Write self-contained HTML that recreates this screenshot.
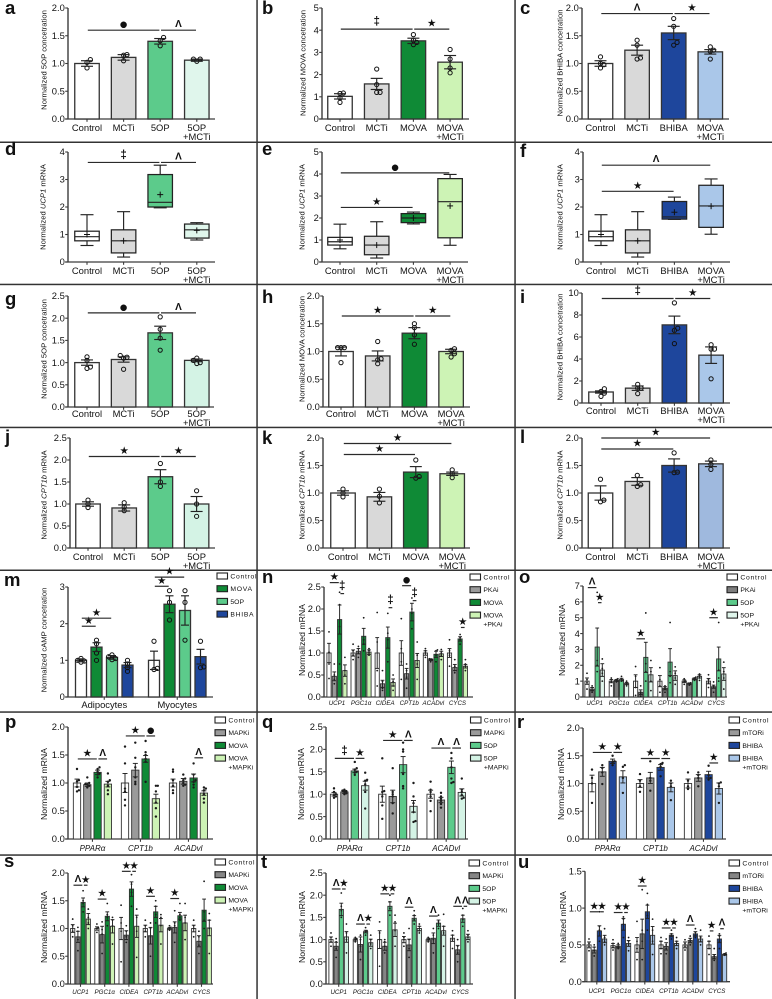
<!DOCTYPE html>
<html lang="en">
<head>
<meta charset="utf-8">
<title>Normalized metabolite and mRNA panels</title>
<style>
html,body{margin:0;padding:0;background:#fff;}
svg{display:block;font-family:"Liberation Sans",Arial,sans-serif;}
</style>
</head>
<body>
<svg id="figure" xmlns="http://www.w3.org/2000/svg" width="772" height="999" viewBox="0 0 772 999">
  <rect x="0" y="0" width="772" height="999" fill="#fff"/>
  <g fill="#333">
    <rect x="256.3" y="0" width="1.5" height="999"/>
    <rect x="514.3" y="0" width="1.5" height="999"/>
    <rect x="0" y="141.5" width="772" height="1.5"/>
    <rect x="0" y="283.7" width="772" height="1.5"/>
    <rect x="0" y="426.7" width="772" height="1.5"/>
    <rect x="0" y="569.5" width="772" height="1.5"/>
    <rect x="0" y="711.3" width="772" height="1.5"/>
    <rect x="0" y="854.3" width="772" height="1.5"/>
  </g>
</svg>
<script>
// ---------- shared tick labels ----------
const ticksTo2 = ['0.0','0.5','1.0','1.5','2.0'];
const ticksTo25 = ['0.0','0.5','1.0','1.5','2.0','2.5'];
const ticksTo5 = ['0','1','2','3','4','5'];
const ticksTo4 = ['0','1','2','3','4'];
const ticksTo10 = ['0','2','4','6','8','10'];
const ticksTo3 = ['0','1','2','3'];
const ticksTo7 = ['0','1','2','3','4','5','6','7'];
const ticksTo15 = ['0.0','0.5','1.0','1.5'];
// ---------- shared categories ----------
const categories5op = ['Control','MCTi','5OP','5OP\n+MCTi'];
const categoriesMova = ['Control','MCTi','MOVA','MOVA\n+MCTi'];
const categoriesBhiba = ['Control','MCTi','BHIBA','MOVA\n+MCTi'];
const categoriesCells = ['Adipocytes','Myocytes'];
const categoriesSixGenes = ['UCP1','PGC1α','CIDEA','CPT1b','ACADvl','CYCS'];
const categoriesThreeGenes = ['PPARα','CPT1b','ACADvl'];

// ---------- panel a ----------
const aValues = [1.0,1.11,1.4,1.06];
const aErrors = [0.05,0.05,0.05,0.02];
const aPoints = [[0.92,1.02,1.07],[1.05,1.15,1.16],[1.32,1.41,1.47],[1.04,1.08,1.08]];
const aSig = [[0,2,1.6,'●'],[2,3,1.6,'Λ']];
// ---------- panel b ----------
const bValues = [1.02,1.58,3.52,2.56];
const bErrors = [0.12,0.25,0.12,0.3];
const bPoints = [[0.75,0.95,1.15,1.17],[1.2,1.2,1.55,2.25],[3.35,3.45,3.55,3.8],[2.08,2.3,2.7,3.13]];
const bSig = [[0,2,4.05,'‡'],[2,3,4.05,'★']];
// ---------- panel c ----------
const cValues = [1.0,1.24,1.55,1.21];
const cErrors = [0.05,0.09,0.12,0.04];
const cPoints = [[0.92,0.98,1.0,1.12],[1.08,1.1,1.33,1.42],[1.33,1.38,1.67,1.81],[1.08,1.22,1.24,1.3]];
const cSig = [[0,2,1.9,'Λ'],[2,3,1.9,'★']];
// ---------- panel d ----------
const dMin = [0.6,0.18,1.97,0.8];
const dQ1 = [0.77,0.33,2.0,0.87];
const dMedian = [0.92,0.77,2.17,1.17];
const dQ3 = [1.12,1.17,3.18,1.38];
const dMax = [1.72,1.83,3.52,1.43];
const dMean = [1.0,0.77,2.45,1.15];
const dSig = [[0,2,3.62,'‡'],[2,3,3.62,'Λ']];
// ---------- panel e ----------
const eMin = [0.6,0.18,1.73,0.76];
const eQ1 = [0.77,0.33,1.79,1.1];
const eMedian = [0.92,0.77,2.0,2.74];
const eQ3 = [1.12,1.17,2.2,3.79];
const eMax = [1.72,1.83,2.27,3.98];
const eMean = [1.0,0.77,2.0,2.55];
const eSig = [[0,3,4.05,'●'],[0,2,2.48,'★']];
// ---------- panel f ----------
const fMin = [0.6,0.18,1.55,1.01];
const fQ1 = [0.77,0.33,1.56,1.26];
const fMedian = [0.92,0.77,1.64,2.04];
const fQ3 = [1.12,1.17,2.2,2.79];
const fMax = [1.72,1.83,2.36,3.02];
const fMean = [1.0,0.77,1.81,2.03];
const fSig = [[0,3,3.52,'Λ'],[0,2,2.57,'★']];
// ---------- panel g ----------
const gValues = [1.0,1.07,1.67,1.05];
const gErrors = [0.06,0.06,0.15,0.03];
const gPoints = [[0.87,0.9,1.05,1.13],[0.85,1.1,1.12,1.16],[1.28,1.55,1.75,2.03],[0.98,1.0,1.05,1.1]];
const gSig = [[0,2,2.12,'●'],[2,3,2.12,'Λ']];
// ---------- panel h ----------
const hValues = [1.0,0.92,1.33,1.0];
const hErrors = [0.08,0.09,0.1,0.04];
const hPoints = [[0.8,1.07,1.07,1.07],[0.78,0.85,0.87,1.18],[1.13,1.3,1.43,1.5],[0.9,0.96,1.02,1.05]];
const hSig = [[0,2,1.64,'★'],[2,3,1.64,'★']];
// ---------- panel i ----------
const iValues = [1.0,1.35,7.1,4.35];
const iErrors = [0.1,0.2,0.8,0.75];
const iPoints = [[0.6,0.9,1.05,1.3],[0.85,1.35,1.35,1.7],[5.4,6.6,6.8,9.1],[2.2,4.9,4.9,5.3]];
const iSig = [[0,2,9.5,'‡'],[2,3,9.5,'★']];
// ---------- panel j ----------
const jValues = [1.0,0.91,1.62,1.0];
const jErrors = [0.05,0.07,0.16,0.17];
const jPoints = [[0.92,1.0,1.09],[0.85,0.93,1.03],[1.4,1.5,1.92],[0.72,1.0,1.3]];
const jSig = [[0,2,2.08,'★'],[2,3,2.08,'★']];
// ---------- panel k ----------
const kValues = [1.0,0.93,1.38,1.35];
const kErrors = [0.04,0.08,0.1,0.03];
const kPoints = [[0.93,1.0,1.07],[0.82,0.94,1.07],[1.27,1.3,1.6],[1.28,1.35,1.42]];
const kSig = [[0,3,1.9,'★'],[0,2,1.7,'★']];
// ---------- panel l ----------
const lValues = [1.0,1.21,1.5,1.53];
const lErrors = [0.13,0.07,0.12,0.05];
const lPoints = [[0.84,0.87,1.25],[1.12,1.15,1.32],[1.37,1.38,1.73],[1.43,1.52,1.6]];
const lSig = [[0,3,2.0,'★'],[0,2,1.8,'★']];
// ---------- panel m ----------
const mValues = [[1.0,1.36,1.08,0.87],[1.0,2.53,2.36,1.1]];
const mErrors = [[0.04,0.12,0.05,0.07],[0.25,0.23,0.4,0.2]];
const mPoints = [[[0.95,0.98,1.0,1.05],[1.0,1.2,1.45,1.55],[1.02,1.05,1.1,1.15],[0.7,0.8,0.9,1.0]],[[0.75,0.78,1.52],[2.1,2.58,2.9],[1.55,2.58,2.9],[0.8,0.82,1.52]]];
const mSig = [[0,1,1.93,'★'],[0,2,2.15,'★'],[4,5,3.02,'★'],[4,6,3.27,'★']];
// ---------- panel n ----------
const nValues = [[1.0,0.47,1.76,0.6],[1.0,1.04,1.38,1.02],[1.0,0.3,1.35,0.33],[1.0,0.53,1.93,0.83],[1.0,0.85,0.97,0.98],[1.0,0.67,1.32,0.7]];
const nErrors = [[0.22,0.1,0.33,0.13],[0.07,0.06,0.18,0.05],[0.35,0.08,0.24,0.08],[0.28,0.12,0.2,0.16],[0.05,0.02,0.07,0.06],[0.1,0.07,0.05,0.04]];
const nPoints = [
 [[0.42,0.75,1.02,1.48],[0.3,0.4,0.5,0.75],[0.75,1.6,2.1,2.38],[0.3,0.5,0.6,0.9]],
 [[0.85,0.95,1.05,1.2],[0.9,1.0,1.1,1.15],[1.05,1.2,1.3,1.8],[0.95,1.0,1.05,1.1]],
 [[0.25,0.6,1.25,1.92],[0.15,0.2,0.35,0.6],[0.8,1.3,1.45,1.9],[0.15,0.25,0.35,0.5]],
 [[0.4,0.8,1.1,1.78],[0.2,0.45,0.6,0.75],[1.55,1.9,2.0,2.25],[0.4,0.75,0.95,1.25]],
 [[0.9,1.0,1.05,1.1],[0.8,0.85,0.85,0.87],[0.8,0.95,1.05,1.07],[0.85,0.95,1.0,1.08]],
 [[0.7,0.95,1.05,1.3],[0.55,0.6,0.7,0.85],[1.2,1.3,1.35,1.42],[0.6,0.7,0.75,0.85]]];
const nSig = [[0,2,2.6,'★'],[2,3,2.35,'‡'],[10,11,2.03,'‡'],[12,14,2.53,'●'],[14,15,2.19,'‡'],[22,23,1.58,'★']];
// ---------- panel o ----------
const oValues = [[1.0,0.5,3.15,1.7],[1.0,1.05,1.1,0.85],[1.0,0.3,2.5,1.4],[1.0,0.55,2.2,1.35],[1.0,0.85,1.15,1.3],[1.0,0.65,2.4,1.45]];
const oErrors = [[0.2,0.1,1.2,0.4],[0.1,0.05,0.08,0.07],[0.4,0.15,0.95,0.45],[0.35,0.1,0.85,0.3],[0.08,0.04,0.05,0.1],[0.17,0.1,0.75,0.4]];
const oPoints = [
 [[0.5,0.9,1.1,1.5],[0.3,0.4,0.6,0.7],[1.6,2.0,2.3,6.6],[1.0,1.5,1.8,2.4]],
 [[0.7,0.95,1.1,1.2],[0.95,1.0,1.1,1.15],[1.0,1.05,1.15,1.3],[0.7,0.8,0.9,1.0]],
 [[0.1,0.6,1.3,1.92],[0.05,0.2,0.3,0.7],[1.0,1.6,2.1,5.3],[0.4,1.0,1.6,2.3]],
 [[0.3,0.7,1.1,1.85],[0.3,0.5,0.6,0.7],[0.9,1.3,1.6,4.7],[0.8,1.2,1.5,1.9]],
 [[0.8,0.95,1.0,1.15],[0.75,0.8,0.85,0.9],[1.05,1.1,1.2,1.25],[1.05,1.2,1.35,1.45]],
 [[0.6,0.9,1.1,1.4],[0.3,0.6,0.7,0.95],[1.0,1.2,1.7,4.7],[0.5,1.2,1.6,2.2]]];
const oSig = [[0,2,6.9,'Λ'],[2,3,5.95,'★'],[8,10,3.67,'★'],[20,22,5.0,'★']];
// ---------- panel p ----------
const pValues = [[1.0,0.97,1.19,0.98],[1.0,1.23,1.43,0.72],[1.0,1.03,1.09,0.82]];
const pErrors = [[0.07,0.03,0.04,0.05],[0.17,0.12,0.06,0.08],[0.07,0.05,0.07,0.04]];
const pPoints = [
 [[0.85,0.87,0.93,1.03,1.05,1.25],[0.92,0.95,0.97,0.98,1.0,1.1],[1.1,1.15,1.17,1.2,1.25,1.28],[0.8,0.87,0.95,1.02,1.05,1.17]],
 [[0.6,0.7,0.85,0.9,1.35,1.65],[0.98,1.02,1.1,1.28,1.45,1.72],[1.02,1.38,1.43,1.5,1.55,1.75],[0.4,0.55,0.65,0.85,0.95,0.95]],
 [[0.82,0.87,0.95,1.05,1.2,1.24],[0.95,0.97,1.0,1.05,1.08,1.15],[0.92,0.97,1.02,1.05,1.15,1.35],[0.65,0.72,0.8,0.87,0.9,0.92]]];
const pSig = [[0,2,1.43,'★'],[2,3,1.43,'Λ'],[4,6,1.84,'★'],[6,7,1.84,'●'],[10,11,1.45,'Λ']];
// ---------- panel q ----------
const qValues = [[1.0,1.05,1.52,1.19],[1.0,0.95,1.66,0.73],[1.0,0.87,1.6,1.04]];
const qErrors = [[0.04,0.03,0.04,0.1],[0.18,0.14,0.18,0.13],[0.09,0.06,0.14,0.08]];
const qPoints = [
 [[0.92,0.95,0.97,1.0,1.05,1.13],[1.0,1.02,1.05,1.07,1.08,1.1],[1.43,1.48,1.5,1.55,1.58,1.72],[0.68,1.05,1.22,1.3,1.32,1.48]],
 [[0.45,0.75,0.95,1.05,1.07,1.8],[0.57,0.8,0.95,1.0,1.05,1.58],[1.13,1.18,1.45,1.95,2.0,2.15],[0.38,0.4,0.6,0.8,0.95,1.25]],
 [[0.62,0.85,0.95,1.05,1.1,1.28],[0.7,0.78,0.85,0.9,0.95,1.03],[1.25,1.27,1.35,1.6,1.8,1.92],[0.9,0.92,0.98,1.05,1.1,1.35]]];
const qSig = [[0,2,1.8,'‡'],[2,3,1.8,'★'],[4,6,2.2,'★'],[6,7,2.2,'Λ'],[8,10,2.03,'Λ'],[10,11,2.03,'Λ']];
// ---------- panel r ----------
const rValues = [[1.0,1.21,1.4,1.12],[1.0,1.1,1.29,0.93],[1.0,1.1,1.16,0.91]];
const rErrors = [[0.15,0.08,0.04,0.11],[0.07,0.1,0.05,0.08],[0.08,0.06,0.06,0.1]];
const rPoints = [
 [[0.65,1.0,1.1,1.25],[0.99,1.2,1.28,1.33],[1.33,1.38,1.4,1.5],[0.83,1.1,1.3,1.33]],
 [[0.85,0.95,1.05,1.17],[0.87,1.05,1.1,1.4],[1.13,1.3,1.35,1.37],[0.7,0.95,1.0,1.05]],
 [[0.9,0.95,1.05,1.2],[0.95,1.1,1.15,1.2],[1.07,1.1,1.15,1.32],[0.65,0.95,1.0,1.02]]];
const rSig = [[0,2,1.56,'★'],[2,3,1.56,'★'],[4,6,1.45,'★'],[6,7,1.45,'★'],[10,11,1.37,'★']];
// ---------- panel s ----------
const sValues = [[1.0,0.85,1.47,1.17],[1.0,0.89,1.22,1.04],[1.0,0.88,1.71,1.04],[1.0,0.87,1.3,1.06],[1.0,1.02,1.23,1.1],[1.0,0.77,1.33,1.01]];
const sErrors = [[0.07,0.1,0.08,0.1],[0.03,0.15,0.08,0.12],[0.2,0.08,0.13,0.2],[0.06,0.15,0.1,0.12],[0.02,0.1,0.06,0.14],[0.06,0.1,0.2,0.14]];
const sPoints = [
 [[0.85,0.95,1.05,1.17],[0.6,0.8,0.95,1.02],[1.3,1.45,1.5,1.68],[1.0,1.1,1.2,1.35]],
 [[0.93,1.0,1.02,1.08],[0.55,0.9,0.98,1.12],[1.05,1.2,1.25,1.45],[0.72,1.05,1.15,1.2]],
 [[0.4,0.95,1.1,1.42],[0.75,0.85,0.95,1.05],[1.4,1.65,1.8,1.97],[0.48,0.95,1.2,1.35]],
 [[0.85,0.95,1.05,1.15],[0.5,0.85,1.0,1.1],[1.1,1.25,1.4,1.5],[0.72,1.05,1.2,1.25]],
 [[0.97,1.0,1.02,1.05],[0.75,1.05,1.1,1.32],[1.15,1.2,1.25,1.45],[0.8,1.1,1.2,1.45]],
 [[0.85,1.0,1.05,1.15],[0.55,0.7,0.85,0.95],[1.0,1.15,1.3,1.85],[0.55,1.0,1.15,1.27]]];
const sSig = [[0,2,1.78,'Λ'],[2,3,1.78,'★'],[4,6,1.53,'★'],[8,10,2.03,'★'],[10,11,2.03,'★'],[12,14,1.58,'★'],[16,18,1.54,'★']];
// ---------- panel t ----------
const tValues = [[1.0,0.85,1.68,1.06],[1.0,0.89,1.18,0.93],[1.0,0.85,1.75,1.22],[1.0,0.88,1.48,1.25],[1.0,1.03,1.37,1.2],[1.03,0.77,1.47,1.06]];
const tErrors = [[0.06,0.09,0.14,0.12],[0.03,0.17,0.03,0.08],[0.2,0.09,0.1,0.15],[0.07,0.13,0.06,0.05],[0.03,0.12,0.07,0.1],[0.07,0.1,0.08,0.06]];
const tPoints = [
 [[0.85,0.95,1.05,1.15],[0.6,0.8,0.95,1.02],[1.5,1.65,1.75,2.05],[0.7,1.0,1.15,1.35]],
 [[0.95,1.0,1.02,1.05],[0.55,0.85,1.0,1.1],[1.1,1.17,1.2,1.27],[0.8,0.9,1.0,1.1]],
 [[0.4,1.0,1.15,1.4],[0.7,0.85,0.95,1.0],[1.55,1.7,1.85,2.0],[0.85,1.2,1.4,1.55]],
 [[0.85,1.0,1.05,1.15],[0.6,0.8,1.0,1.25],[1.35,1.45,1.55,1.65],[1.15,1.2,1.3,1.35]],
 [[0.95,1.0,1.02,1.05],[0.7,1.0,1.1,1.25],[1.25,1.35,1.4,1.55],[0.85,1.15,1.3,1.57]],
 [[0.8,1.0,1.1,1.2],[0.5,0.7,0.85,1.0],[1.3,1.45,1.55,1.7],[0.95,1.05,1.1,1.2]]];
const tSig = [[0,2,2.14,'Λ'],[2,3,2.14,'★'],[4,6,1.35,'Λ'],[6,7,1.35,'★'],[8,10,2.03,'★'],[10,11,2.03,'★'],[12,14,1.73,'Λ'],[16,18,1.53,'Λ'],[20,22,1.75,'Λ'],[22,23,1.75,'Λ']];
// ---------- panel u ----------
const uValues = [[0.5,0.43,0.69,0.58],[0.49,0.48,0.78,0.52],[0.5,0.65,0.95,0.63],[0.5,0.48,0.63,0.52],[0.5,0.56,0.65,0.58],[0.5,0.34,0.58,0.37]];
const uErrors = [[0.04,0.04,0.07,0.05],[0.03,0.02,0.08,0.04],[0.1,0.2,0.09,0.12],[0.05,0.05,0.02,0.03],[0.04,0.03,0.03,0.04],[0.05,0.03,0.05,0.01]];
const uPoints = [
 [[0.42,0.48,0.52,0.58],[0.35,0.42,0.47,0.5],[0.55,0.7,0.75,0.95],[0.5,0.55,0.6,0.72]],
 [[0.43,0.47,0.52,0.57],[0.45,0.47,0.5,0.52],[0.6,0.78,0.85,0.88],[0.42,0.5,0.55,0.6]],
 [[0.3,0.45,0.55,0.82],[0.3,0.55,0.7,1.25],[0.7,0.9,1.05,1.2],[0.37,0.55,0.7,0.85]],
 [[0.38,0.45,0.55,0.6],[0.38,0.45,0.5,0.58],[0.58,0.62,0.65,0.7],[0.45,0.52,0.55,0.6]],
 [[0.43,0.48,0.52,0.57],[0.5,0.55,0.58,0.62],[0.6,0.63,0.67,0.72],[0.5,0.55,0.6,0.7]],
 [[0.37,0.45,0.55,0.62],[0.29,0.32,0.35,0.45],[0.45,0.55,0.62,0.65],[0.36,0.37,0.38,0.39]]];
const uSig = [[0,2,0.95,'★'],[2,3,0.95,'★'],[4,6,0.94,'★'],[6,7,0.94,'★'],[8,10,1.3,'★'],[12,14,0.73,'★'],[14,15,0.73,'★'],[16,18,0.77,'Λ'],[20,21,0.69,'★'],[22,23,0.72,'Λ']];

// ---------- styling and layout (not data) ----------
const WHITE='#ffffff',GREY='#d9d9d9',MID='#9a9a9a',OP='#5ccb8b',OPL='#e0f6ec',OPL2='#d4f3e5',MV='#0f8a36',MVL='#cdf3b5',BH='#1e469c',BHL='#aac7e9',BHL2='#9fb9de';
const big={barW:24.5,capW:12,first:0,step:0,catSize:9.4,catItalic:false,pointR:2.1,open:true,tickSize:9.4,titleSize:7.65};
const small={barW:4.2,capW:3.8,catSize:6.2,catItalic:true,pointR:0.9,open:false,tickSize:9.4,titleSize:8.7};
const mid={barW:7.3,capW:5,catSize:8,catItalic:true,pointR:1.2,open:false,tickSize:9.4,titleSize:8.7};

const panels=[
 {...big,id:'a',lx:5,ly:14,ax:68,end:215,top:8,bot:119,ticks:ticksTo2,values:aValues,errors:aErrors,points:aPoints,sig:aSig,cats:categories5op,colors:[WHITE,GREY,OP,OPL],first:87,gs:36.6,catY:131,title:'Normalized 5OP concetration',tx:44,ty:60},
 {...big,id:'b',lx:262,ly:14,ax:322,end:469,top:8,bot:119,ticks:ticksTo5,values:bValues,errors:bErrors,points:bPoints,sig:bSig,cats:categoriesMova,colors:[WHITE,GREY,MV,MVL],first:340,gs:36.7,catY:131,title:'Normalized MOVA concetration',tx:303,ty:63},
 {...big,id:'c',lx:520,ly:14,ax:582,end:729,top:8,bot:119,ticks:ticksTo2,values:cValues,errors:cErrors,points:cPoints,sig:cSig,cats:categoriesBhiba,colors:[WHITE,GREY,BH,BHL],first:600.5,gs:36.6,catY:131,title:'Normalized BHIBA concetration',tx:560,ty:63},
 {...big,id:'d',lx:5,ly:155,ax:68,end:215,top:152,bot:262,ticks:ticksTo4,box:{min:dMin,q1:dQ1,med:dMedian,q3:dQ3,max:dMax,mean:dMean},sig:dSig,cats:categories5op,colors:[WHITE,GREY,OP,OPL],first:87,gs:36.6,catY:274,title:'Normalized |UCP1| mRNA',tx:43,ty:207},
 {...big,id:'e',lx:262,ly:155,ax:322,end:468,top:152,bot:262,ticks:ticksTo5,box:{min:eMin,q1:eQ1,med:eMedian,q3:eQ3,max:eMax,mean:eMean},sig:eSig,cats:categoriesMova,colors:[WHITE,GREY,MV,MVL],first:340,gs:36.7,catY:274,title:'Normalized |UCP1| mRNA',tx:302,ty:207},
 {...big,id:'f',lx:520,ly:157,ax:583,end:730,top:152,bot:262,ticks:ticksTo4,box:{min:fMin,q1:fQ1,med:fMedian,q3:fQ3,max:fMax,mean:fMean},sig:fSig,cats:categoriesBhiba,colors:[WHITE,GREY,BH,BHL],first:601,gs:36.7,catY:274,title:'Normalized |UCP1| mRNA',tx:560,ty:207},
 {...big,id:'g',lx:5,ly:305,ax:68,end:214,top:296,bot:407,ticks:ticksTo25,values:gValues,errors:gErrors,points:gPoints,sig:gSig,cats:categories5op,colors:[WHITE,GREY,OP,OPL2],first:87,gs:36.6,catY:417,title:'Normalized 5OP concetration',tx:44,ty:349},
 {...big,id:'h',lx:262,ly:303,ax:323,end:470,top:296,bot:407,ticks:ticksTo2,values:hValues,errors:hErrors,points:hPoints,sig:hSig,cats:categoriesMova,colors:[WHITE,GREY,MV,MVL],first:341,gs:36.7,catY:417,title:'Normalized MOVA concetration',tx:302,ty:349},
 {...big,id:'i',lx:520,ly:303,ax:582,end:730,top:293,bot:403,ticks:ticksTo10,values:iValues,errors:iErrors,points:iPoints,sig:iSig,cats:categoriesBhiba,colors:[WHITE,GREY,BH,BHL],first:601,gs:36.7,catY:414,title:'Normalized BHIBA concetration',tx:560,ty:347},
 {...big,id:'j',lx:5,ly:443,ax:70,end:215,top:438,bot:548,ticks:ticksTo25,values:jValues,errors:jErrors,points:jPoints,sig:jSig,cats:categories5op,colors:[WHITE,GREY,OP,OPL2],first:88,gs:36.2,catY:560,title:'Normalized |CPT1b| mRNA',tx:44,ty:495},
 {...big,id:'k',lx:262,ly:444,ax:323,end:470,top:438,bot:548,ticks:ticksTo2,values:kValues,errors:kErrors,points:kPoints,sig:kSig,cats:categoriesMova,colors:[WHITE,GREY,MV,MVL],first:343,gs:36.4,catY:560,title:'Normalized |CPT1b| mRNA',tx:302,ty:495},
 {...big,id:'l',lx:520,ly:443,ax:582,end:730,top:438,bot:548,ticks:ticksTo2,values:lValues,errors:lErrors,points:lPoints,sig:lSig,cats:categoriesBhiba,colors:[WHITE,GREY,BH,BHL2],first:600.5,gs:36.8,catY:560,title:'Normalized |CPT1b| mRNA',tx:560,ty:495},
 {...big,id:'m',lx:4,ly:586,ax:68,end:213,top:587,bot:697,ticks:ticksTo3,values:mValues,errors:mErrors,points:mPoints,sig:mSig,cats:categoriesCells,colors:[WHITE,MV,OP,BH],first:81,step:15.5,gs:73,barW:11,capW:8,pointR:2.1,catY:708,title:'Normalized cAMP concetration',tx:44,ty:640,
  legend:['Control','MOVA','5OP','BHIBA'],legendX:217,legendY:573,spacedAll:true},
 {...small,id:'n',lx:262,ly:583,ax:324,end:473,top:587,bot:697,ticks:ticksTo25,values:nValues,errors:nErrors,points:nPoints,sig:nSig,cats:categoriesSixGenes,colors:[WHITE,MID,MV,MVL],first:329,step:5.3,gs:24.1,catY:705,title:'Normalized mRNA',tx:302,ty:640,
  legend:['Control','PKAi','MOVA','MOVA\n+PKAi'],legendX:470,legendY:574},
 {...small,id:'o',lx:519,ly:583,ax:583,end:727,top:586,bot:697,ticks:ticksTo7,values:oValues,errors:oErrors,points:oPoints,sig:oSig,cats:categoriesSixGenes,colors:[WHITE,'#7d7d7d',OP,OPL],first:587,step:5.1,gs:24.3,catY:705,title:'Normalized mRNA',tx:562,ty:640,
  legend:['Control','PKAi','5OP','5OP\n+PKAi'],legendX:727,legendY:574},
 {...mid,id:'p',lx:5,ly:728,ax:68,end:213,top:727,bot:839,ticks:ticksTo2,values:pValues,errors:pErrors,points:pPoints,sig:pSig,cats:categoriesThreeGenes,colors:[WHITE,MID,MV,MVL],first:77,step:10.3,gs:48,catY:851,title:'Normalized mRNA',tx:44,ty:784,
  legend:['Control','MAPKi','MOVA','MOVA\n+MAPKi'],legendX:215,legendY:717},
 {...mid,id:'q',lx:262,ly:728,ax:326,end:468,top:727,bot:839,ticks:ticksTo25,values:qValues,errors:qErrors,points:qPoints,sig:qSig,cats:categoriesThreeGenes,colors:[WHITE,MID,OP,OPL2],first:334,step:10.4,gs:48.3,catY:851,title:'Normalized mRNA',tx:301,ty:784,
  legend:['Control','MAPKi','5OP','5OP\n+MAPKi'],legendX:470.5,legendY:717},
 {...mid,id:'r',lx:517,ly:728,ax:583,end:726,top:728,bot:839,ticks:ticksTo2,values:rValues,errors:rErrors,points:rPoints,sig:rSig,cats:categoriesThreeGenes,colors:[WHITE,MID,BH,BHL],first:592,step:10.3,gs:48,catY:851,title:'Normalized mRNA',tx:561,ty:784,
  legend:['Control','mTORi','BHIBA','BHIBA\n+mTORi'],legendX:729,legendY:717},
 {...small,id:'s',lx:4,ly:867,ax:68,end:213,top:873,bot:984,ticks:ticksTo2,values:sValues,errors:sErrors,points:sPoints,sig:sSig,cats:categoriesSixGenes,colors:[WHITE,'#858585',MV,MVL],first:72.7,step:5.2,gs:24.2,catY:994,title:'Normalized mRNA',tx:44,ty:927,
  legend:['Control','MAPKi','MOVA','MOVA\n+MAPKi'],legendX:215,legendY:859},
 {...small,id:'t',lx:261,ly:868,ax:326,end:473,top:873,bot:984,ticks:ticksTo25,values:tValues,errors:tErrors,points:tPoints,sig:tSig,cats:categoriesSixGenes,colors:[WHITE,'#858585',OP,OPL2],first:331,step:5.15,gs:24.3,catY:994,title:'Normalized mRNA',tx:302,ty:927,
  legend:['Control','MAPKi','5OP','5OP\n+MAPKi'],legendX:469,legendY:860},
 {...small,id:'u',lx:518,ly:868,ax:585,end:730,top:871.3,bot:981.7,ticks:ticksTo15,values:uValues,errors:uErrors,points:uPoints,sig:uSig,cats:categoriesSixGenes,colors:[WHITE,'#858585',BH,BHL],first:589,step:5.2,gs:24,catY:993,title:'Normalized mRNA',tx:563,ty:927,
  legend:['Control','mTORi','BHIBA','BHIBA\n+mTORi'],legendX:729,legendY:860}
];

// ---------- drawing ----------
const SVGNS='http://www.w3.org/2000/svg';
const INK='#222222';
const AXIS='#3c3c3c';
const TEXT='#111111';
const figure=document.getElementById('figure');
function make(tag,attrs,parent,txt){
  const node=document.createElementNS(SVGNS,tag);
  for(const key in attrs){node.setAttribute(key,attrs[key]);}
  if(txt!==undefined){node.textContent=txt;}
  parent.appendChild(node);
  return node;
}
function swarm(ys,r){
  const gap=r*1.6;
  const placed=[];
  return ys.map(function(y){
    const order=[0,1,-1,2,-2,3,-3];
    let chosen=0;
    for(const k of order){
      const x=k*gap;
      if(placed.every(function(p){return Math.hypot(p[0]-x,p[1]-y)>=gap;})){chosen=x;break;}
    }
    placed.push([chosen,y]);
    return chosen;
  });
}
const symbolStyle={
  '★':{font:'"DejaVu Sans",sans-serif',size:10.5,dy:-2.4,weight:'normal'},
  '‡':{font:'"Liberation Sans",sans-serif',size:11.5,dy:-4,weight:'bold'},
  '●':{font:'"DejaVu Sans",sans-serif',size:8.5,dy:-3,weight:'normal'},
  'Λ':{font:'"Liberation Sans",sans-serif',size:10,dy:-3,weight:'bold'}
};

panels.forEach(function(p){
  const group=make('g',{},figure);
  
  

  const letter=make('text',{x:p.lx,y:p.ly,'font-size':18.5,'font-weight':'bold',fill:'#111'},group,p.id);
  
  

  const yMax=parseFloat(p.ticks[p.ticks.length-1]);
  const yScale=function(v){return p.bot-(v/yMax)*(p.bot-p.top);};
  const source=p.box?p.box.mean:p.values;
  const flatValues=source.flat();
  const perGroup=flatValues.length/p.cats.length;
  const xScale=function(k){return p.first+Math.floor(k/perGroup)*p.gs+(k%perGroup)*p.step;};
  const groupCenter=function(g){return p.first+g*p.gs+(perGroup-1)*p.step/2;};

  // y axis
  const yAxis=make('line',{x1:p.ax,x2:p.ax,y1:p.top,y2:p.bot,stroke:AXIS,'stroke-width':1.4},group);
  
  
  const xAxis=make('line',{x1:p.ax-2.8,x2:p.end,y1:p.bot,y2:p.bot,stroke:AXIS,'stroke-width':1.3},group);
  
  
  p.ticks.forEach(function(label){
    const v=parseFloat(label);
    const tick=make('line',{x1:p.ax-2.8,x2:p.ax,y1:yScale(v),y2:yScale(v),stroke:AXIS,'stroke-width':1.1},group);
    
    
    const tickLabel=make('text',{x:p.ax-3.2,y:yScale(v)+3.2,'font-size':p.tickSize,'text-anchor':'end',fill:TEXT},group,label);
    
    
  });

  // y-axis title
  const title=make('text',{x:p.tx,y:p.ty,'font-size':p.titleSize,'text-anchor':'middle',fill:TEXT,transform:'rotate(-90 '+p.tx+' '+p.ty+')',dy:'0.35em'},group);
  
  
  p.title.split('|').forEach(function(part,i){
    make('tspan',i%2?{'font-style':'italic'}:{},title,part);
  });

  // categories
  p.cats.forEach(function(cat,g){
    const cx=groupCenter(g);
    const xTick=make('line',{x1:cx,x2:cx,y1:p.bot,y2:p.bot+2.8,stroke:AXIS,'stroke-width':1.1},group);
    
    
    cat.split('\n').forEach(function(line,i){
      const catLabel=make('text',{x:cx,y:p.catY+i*9,'font-size':p.catSize,'text-anchor':'middle',fill:TEXT,'font-style':p.catItalic?'italic':'normal'},group,line);
      
      
    });
  });

  const colorFor=function(k){return p.colors[k%p.colors.length];};

  if(p.box){
    flatValues.forEach(function(_,k){
      const cx=xScale(k);
      const w=p.barW;
      const whisker=make('line',{x1:cx,x2:cx,y1:yScale(p.box.max[k]),y2:yScale(p.box.min[k]),stroke:INK,'stroke-width':1.15},group);
      
      
      [p.box.max[k],p.box.min[k]].forEach(function(v){
        const cap=make('line',{x1:cx-p.capW/2-0.5,x2:cx+p.capW/2+0.5,y1:yScale(v),y2:yScale(v),stroke:INK,'stroke-width':1.15},group);
        
        
      });
      const box=make('rect',{x:cx-w/2,width:w,y:yScale(p.box.q3[k]),height:yScale(p.box.q1[k])-yScale(p.box.q3[k]),fill:colorFor(k),stroke:INK,'stroke-width':1.25},group);
      
      
      const median=make('line',{x1:cx-w/2,x2:cx+w/2,y1:yScale(p.box.med[k]),y2:yScale(p.box.med[k]),stroke:INK,'stroke-width':1.15},group);
      
      
      const my=yScale(p.box.mean[k]);
      const meanH=make('line',{x1:cx-3,x2:cx+3,y1:my,y2:my,stroke:'#111','stroke-width':1},group);
      
      
      const meanV=make('line',{x1:cx,x2:cx,y1:my-3,y2:my+3,stroke:'#111','stroke-width':1},group);
      
      
    });
  } else {
    const flatErrors=p.errors.flat();
    const flatPoints=Array.isArray(p.points[0][0])?p.points.flat(1):p.points;
    flatValues.forEach(function(v,k){
      const cx=xScale(k);
      const bar=make('rect',{x:cx-p.barW/2,width:p.barW,y:yScale(v),height:p.bot-yScale(v),fill:colorFor(k),stroke:'#333','stroke-width':p.barW>8?1.3:0.9},group);
      
      
    });
    flatValues.forEach(function(v,k){
      const cx=xScale(k);
      const ys=flatPoints[k].map(yScale).sort(function(a,b){return b-a;});
      const offsets=swarm(ys,p.pointR);
      ys.forEach(function(y,i){
        const point=make('circle',{cx:cx+offsets[i],cy:y,r:p.pointR,fill:p.open?'none':'#1a1a1a',stroke:p.open?'#111':'none','stroke-width':p.open?1:0},group);
        
        
      });
      const hi=yScale(v+flatErrors[k]);
      const lo=yScale(v-flatErrors[k]);
      const stem=make('line',{x1:cx,x2:cx,y1:hi,y2:lo,stroke:'#222','stroke-width':p.barW>8?1.15:0.95},group);
      
      
      [hi,lo].forEach(function(y){
        const cap=make('line',{x1:cx-p.capW/2,x2:cx+p.capW/2,y1:y,y2:y,stroke:'#222','stroke-width':p.barW>8?1.15:0.95},group);
        
        
      });
    });
  }

  // significance brackets
  p.sig.forEach(function(s){
    const x1=xScale(s[0])+0.8;
    const x2=xScale(s[1])-0.8;
    const y=yScale(s[2]);
    const bracket=make('line',{x1:x1,x2:x2,y1:y,y2:y,stroke:'#2a2a2a','stroke-width':1.2},group);
    
    
    const st=symbolStyle[s[3]];
    const mark=make('text',{x:(x1+x2)/2,y:y+st.dy,'font-size':st.size,'text-anchor':'middle','font-family':st.font,'font-weight':st.weight,fill:'#111'},group,s[3]);
    
    
  });

  // legend
  if(p.legend){
    p.legend.forEach(function(name,i){
      const y=p.legendY+i*12.7;
      const swatch=make('rect',{x:p.legendX,y:y,width:10.5,height:6,fill:p.colors[i],stroke:'#222','stroke-width':1.1},group);
      
      
      name.split('\n').forEach(function(line,j){
        const spaced=(line==='Control')||(p.spacedAll&&line!=='5OP');
        const legendText=make('text',{x:p.legendX+13.4,y:y+5.4+j*9.2,'font-size':6.8,fill:TEXT,'letter-spacing':spaced?0.7:0},group,line);
        
        
      });
    });
  }
});
</script>
</body>
</html>
